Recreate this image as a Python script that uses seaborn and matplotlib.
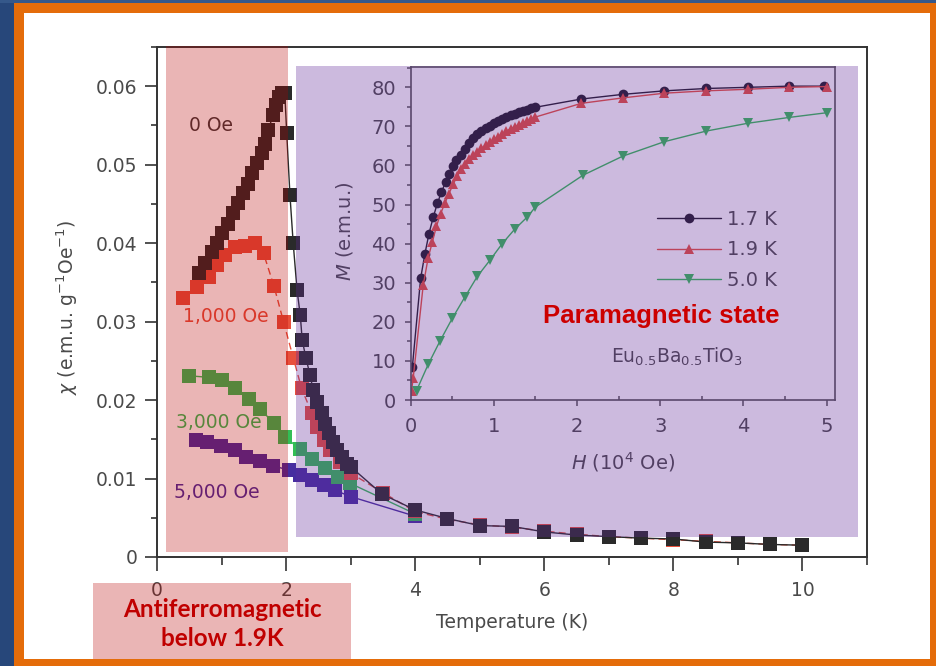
import matplotlib
matplotlib.use("Agg")
import matplotlib.pyplot as plt
from matplotlib.patches import Rectangle
from matplotlib.ticker import MultipleLocator
import seaborn as sns

# ---------------- susceptibility chi(T) at several fields ----------------
T_0OE = [0.65, 0.74, 0.85, 0.93, 1.01, 1.10, 1.18, 1.26, 1.33, 1.41, 1.47, 1.55,
         1.63, 1.67, 1.72, 1.80, 1.84, 1.89, 1.94, 1.98, 2.01, 2.06, 2.11, 2.17,
         2.22, 2.25, 2.31, 2.37, 2.42, 2.48, 2.55, 2.60, 2.66, 2.73, 2.79, 2.86,
         2.94, 3.00, 3.49, 4.0, 4.5, 5.0, 5.5, 6.0, 6.5, 7.0, 7.5, 8.0, 8.5, 9.0,
         9.5, 10.0]
CHI_0OE = [0.0362, 0.0375, 0.0389, 0.0400, 0.0413, 0.0425, 0.0438, 0.0451, 0.0464,
           0.0476, 0.0489, 0.0502, 0.0515, 0.0527, 0.0544, 0.0563, 0.0576, 0.0586,
           0.0592, 0.0591, 0.0540, 0.0461, 0.0400, 0.0340, 0.0308, 0.0276, 0.0253,
           0.0232, 0.0213, 0.0198, 0.0183, 0.0170, 0.0158, 0.0147, 0.0136, 0.0128,
           0.0119, 0.0115, 0.0080, 0.0060, 0.0049, 0.0040, 0.0039, 0.0032, 0.0028,
           0.0026, 0.0024, 0.0023, 0.0019, 0.0018, 0.0016, 0.0015]

T_1000OE = [0.41, 0.62, 0.81, 0.93, 1.05, 1.21, 1.36, 1.52, 1.65, 1.81, 1.96, 2.11,
            2.24, 2.40, 2.48, 2.58, 2.68, 2.84, 3.00, 3.50, 4.0, 4.5, 5.0, 5.5, 6.0,
            6.5, 7.0, 7.5, 8.0, 8.5, 9.0, 9.5, 10.0]
CHI_1000OE = [0.0330, 0.0344, 0.0357, 0.0372, 0.0385, 0.0395, 0.0397, 0.0400, 0.0387,
              0.0346, 0.0300, 0.0254, 0.0215, 0.0183, 0.0166, 0.0149, 0.0136, 0.0121,
              0.0107, 0.0082, 0.0058, 0.0048, 0.0041, 0.0038, 0.0033, 0.0029, 0.0026,
              0.0024, 0.0022, 0.0020, 0.0018, 0.0016, 0.0015]

T_3000OE = [0.49, 0.80, 1.00, 1.21, 1.42, 1.60, 1.81, 1.98, 2.21, 2.40, 2.60, 2.80,
            2.99, 4.0]
CHI_3000OE = [0.0231, 0.0229, 0.0225, 0.0215, 0.0202, 0.0188, 0.0171, 0.0153, 0.0138,
              0.0125, 0.0113, 0.0102, 0.0094, 0.0055]

T_5000OE = [0.61, 0.78, 0.99, 1.21, 1.38, 1.60, 1.80, 2.04, 2.22, 2.40, 2.58, 2.76,
            3.00, 4.0]
CHI_5000OE = [0.0149, 0.0146, 0.0142, 0.0136, 0.0128, 0.0122, 0.0116, 0.0111, 0.0104,
              0.0098, 0.0092, 0.0085, 0.0077, 0.0052]

# ---------------- magnetisation M(H) at three temperatures ----------------
H_17K = [0.02, 0.12, 0.17, 0.22, 0.27, 0.32, 0.37, 0.42, 0.46, 0.51, 0.55, 0.60,
         0.65, 0.70, 0.75, 0.80, 0.85, 0.90, 0.95, 1.00, 1.05, 1.10, 1.15, 1.20,
         1.25, 1.30, 1.35, 1.40, 1.45, 1.50, 2.05, 2.55, 3.05, 3.55, 4.05, 4.55, 4.97]
M_17K = [8.5, 31.2, 37.3, 42.6, 46.7, 50.3, 53.2, 55.8, 57.9, 59.8, 61.4, 62.8,
         64.3, 65.8, 67.0, 68.0, 68.8, 69.5, 70.2, 70.8, 71.4, 71.9, 72.4, 72.9,
         73.3, 73.7, 74.0, 74.3, 74.6, 74.9, 77.0, 78.2, 79.1, 79.7, 80.0, 80.3, 80.3]

H_19K = [0.01, 0.03, 0.15, 0.21, 0.26, 0.31, 0.36, 0.41, 0.46, 0.51, 0.56, 0.61,
         0.65, 0.70, 0.75, 0.80, 0.85, 0.90, 0.95, 1.00, 1.05, 1.10, 1.15, 1.20,
         1.25, 1.30, 1.35, 1.40, 1.45, 1.50, 2.05, 2.55, 3.05, 3.55, 4.05, 4.55, 5.00]
M_19K = [2.4, 5.6, 29.3, 36.4, 40.4, 44.5, 47.7, 50.3, 52.8, 55.2, 57.3, 59.0,
         60.3, 61.6, 62.6, 63.5, 64.4, 65.2, 65.9, 66.7, 67.4, 68.1, 68.8, 69.4,
         69.9, 70.4, 70.9, 71.4, 71.9, 72.4, 75.9, 77.3, 78.5, 79.1, 79.5, 80.0, 80.2]

H_50K = [0.07, 0.21, 0.35, 0.50, 0.65, 0.80, 0.95, 1.10, 1.25, 1.40, 1.50, 2.07,
         2.55, 3.05, 3.55, 4.05, 4.55, 5.00]
M_50K = [2.4, 9.1, 15.0, 20.9, 26.3, 31.6, 35.7, 40.0, 43.7, 46.8, 49.4, 57.5,
         62.4, 66.1, 68.8, 70.8, 72.3, 73.5]

X_TICKS = [0, 2, 4, 6, 8, 10]
X_TICK_LABELS = ["0", "2", "4", "6", "8", "10"]
Y_TICKS = [0, 0.01, 0.02, 0.03, 0.04, 0.05, 0.06]
Y_TICK_LABELS = ["0", "0.01", "0.02", "0.03", "0.04", "0.05", "0.06"]
INSET_X_TICKS = [0, 1, 2, 3, 4, 5]
INSET_Y_TICKS = [0, 10, 20, 30, 40, 50, 60, 70, 80]

# ---------------- styling ----------------
sns.set_style("ticks")
plt.rcParams["font.family"] = ["DejaVu Sans"]
plt.rcParams["mathtext.fontset"] = "dejavusans"

C_BLACK = "#2a2a2a"
C_RED = "#e8503c"
C_GREEN = "#32be55"
C_PURPLE = "#462da0"
C_DARK = "#1e1a26"
C_TEXT = "#4a4a4a"
C_SPINE = "#333333"

W, H = 936, 666
fig = plt.figure(figsize=(W / 100, H / 100), dpi=100)
fig.patch.set_facecolor("#e46c0a")


def px_rect(x0, y0, x1, y1, **kw):
    """Rectangle given in pixel coordinates measured from the top-left corner."""
    return Rectangle((x0 / W, 1 - y1 / H), (x1 - x0) / W, (y1 - y0) / H,
                     transform=fig.transFigure, linewidth=0, **kw)


# slide frame: blue edge, orange border, white panel
for r in (px_rect(0, 0, 14, H, facecolor="#27477a", zorder=-3),
          px_rect(0, 0, W, 3, facecolor="#35588a", zorder=-3),
          px_rect(24, 13, 930, 659, facecolor="white", zorder=-3)):
    fig.patches.append(r)

# ---------------- main chi(T) panel ----------------
ax = fig.add_axes([157 / W, 1 - 557 / H, 710 / W, 510 / H])
ax.set_facecolor("none")

series = [
    (T_5000OE, CHI_5000OE, C_PURPLE, "-"),
    (T_3000OE, CHI_3000OE, C_GREEN, "-"),
    (T_1000OE, CHI_1000OE, C_RED, (0, (5, 3))),
    (T_0OE, CHI_0OE, C_BLACK, "-"),
]
for t, chi, col, ls in series:
    sns.lineplot(x=t, y=chi, ax=ax, color=col, marker="s", markersize=9.4,
                 markeredgewidth=0, linewidth=1.0, linestyle=ls,
                 sort=False, estimator=None, legend=False)

ax.set_xlim(0, 11)
ax.set_ylim(0, 0.065)
ax.set_xticks(X_TICKS)
ax.set_xticklabels(X_TICK_LABELS)
ax.set_yticks(Y_TICKS)
ax.set_yticklabels(Y_TICK_LABELS)
ax.xaxis.set_minor_locator(MultipleLocator(1))
ax.yaxis.set_minor_locator(MultipleLocator(0.005))
ax.tick_params(axis="x", which="major", direction="out", length=10, width=1.2,
               pad=7, labelsize=13.5, color=C_SPINE, labelcolor=C_TEXT)
ax.tick_params(axis="x", which="minor", direction="out", length=5.5, width=1.2,
               color=C_SPINE)
ax.tick_params(axis="y", which="major", direction="out", length=8.5, width=1.2,
               pad=5.5, labelsize=13.5, color=C_SPINE, labelcolor=C_TEXT)
ax.tick_params(axis="y", which="minor", direction="out", length=4, width=1.2,
               color=C_SPINE)
for s in ax.spines.values():
    s.set_visible(True)
    s.set_color(C_SPINE)
    s.set_linewidth(1.4)

ax.set_xlabel("Temperature (K)", fontsize=13.5, color=C_TEXT)
ax.xaxis.set_label_coords(0.5, -0.11)
ax.set_ylabel(r"$\chi$ (e.m.u. g$^{-1}$Oe$^{-1}$)", fontsize=13.5, color=C_TEXT)
ax.yaxis.set_label_coords(-0.108, 0.49)

for txt, tx, ty, col in [("0 Oe", 0.84, 0.0550, "#3e3a3a"),
                         ("1,000 Oe", 1.06, 0.0306, C_RED),
                         ("3,000 Oe", 0.95, 0.0172, C_GREEN),
                         ("5,000 Oe", 0.92, 0.0082, C_PURPLE)]:
    ax.text(tx, ty, txt, ha="center", va="center", fontsize=13.5, color=col)

# ---------------- inset M(H) panel ----------------
axin = fig.add_axes([410.7 / W, 1 - 400 / H, 424.3 / W, 333 / H])
axin.set_facecolor("none")

sns.lineplot(x=H_17K, y=M_17K, ax=axin, color=C_DARK, marker="o", markersize=7.0,
             markeredgewidth=0, linewidth=1.0, sort=False, estimator=None,
             label="1.7 K")
sns.lineplot(x=H_19K, y=M_19K, ax=axin, color=C_RED, marker="^", markersize=7.8,
             markeredgewidth=0, linewidth=1.0, sort=False, estimator=None,
             label="1.9 K")
sns.lineplot(x=H_50K, y=M_50K, ax=axin, color=C_GREEN, marker="v", markersize=7.8,
             markeredgewidth=0, linewidth=1.0, sort=False, estimator=None,
             label="5.0 K")

axin.set_xlim(0, 5.1)
axin.set_ylim(0, 85.2)
axin.set_xticks(INSET_X_TICKS)
axin.set_yticks(INSET_Y_TICKS)
axin.xaxis.set_minor_locator(MultipleLocator(0.5))
axin.yaxis.set_minor_locator(MultipleLocator(5))
axin.tick_params(axis="both", which="major", direction="out", length=4.5, width=1.1,
                 labelsize=14, color="#555555", labelcolor=C_TEXT)
axin.tick_params(axis="x", which="major", pad=8)
axin.tick_params(axis="y", which="major", pad=6)
axin.tick_params(axis="x", which="minor", direction="in", length=3, width=1.1,
                 color="#555555")
axin.tick_params(axis="y", which="minor", direction="out", length=3, width=1.1,
                 color="#555555")
for s in axin.spines.values():
    s.set_visible(True)
    s.set_color("#555555")
    s.set_linewidth(1.2)

axin.set_xlabel(r"$H$ (10$^4$ Oe)", fontsize=14, color=C_TEXT)
axin.xaxis.set_label_coords(0.5, -0.15)
axin.set_ylabel(r"$M$ (e.m.u.)", fontsize=14, color=C_TEXT)
axin.yaxis.set_label_coords(-0.131, 0.505)

leg = axin.legend(loc="center left", bbox_to_anchor=(0.5805, 0.4505), frameon=False,
                  fontsize=14, handlelength=3.3, handletextpad=0.3, labelspacing=0.6,
                  borderpad=0, borderaxespad=0)
for t in leg.get_texts():
    t.set_color(C_TEXT)

axin.text(0.628, 0.129, r"Eu$_{0.5}$Ba$_{0.5}$TiO$_3$", transform=axin.transAxes,
          ha="center", va="center", fontsize=13.5, color=C_TEXT)

# ---------------- translucent phase regions ----------------
PINK = (183 / 255, 0, 0)
LILAC = (98 / 255, 42 / 255, 154 / 255)
fig.patches.append(px_rect(166, 46, 288, 552, facecolor=PINK, alpha=0.29, zorder=5))
fig.patches.append(px_rect(296, 66, 858, 537, facecolor=LILAC, alpha=0.32, zorder=5))
fig.patches.append(px_rect(93, 583, 351, 659, facecolor=PINK, alpha=0.29, zorder=5))

fig.text(661 / W, 1 - 316 / H, "Paramagnetic state", ha="center", va="center",
         fontsize=18.5, fontweight="bold", family=["Liberation Sans", "DejaVu Sans"],
         color="#cc0000", zorder=6)
fig.text(222 / W, 1 - 624 / H, "Antiferromagnetic\nbelow 1.9K", ha="center",
         va="center", multialignment="center", linespacing=1.3, fontsize=17.5,
         fontweight="bold", family=["Lato", "DejaVu Sans"], color="#c00000", zorder=6)

fig.savefig("out.png", dpi=100, facecolor=fig.get_facecolor())
